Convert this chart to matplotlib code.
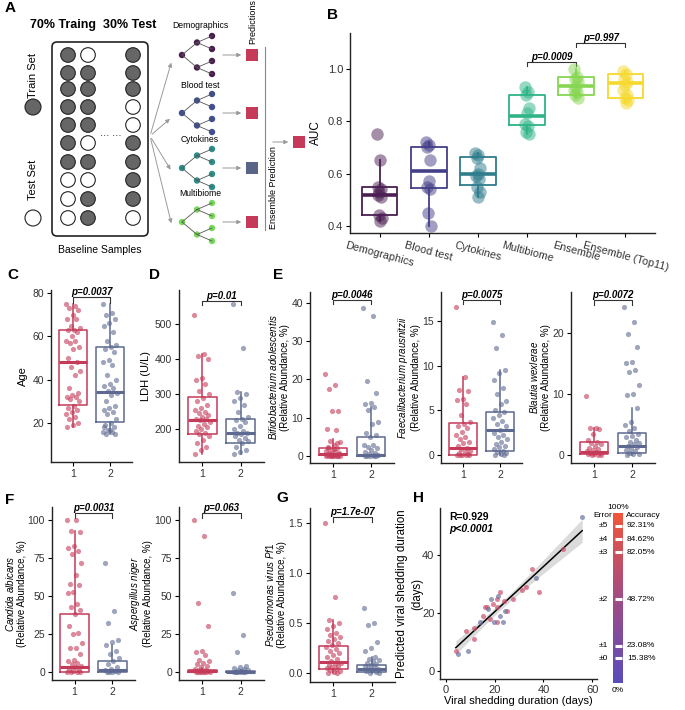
import numpy as np
import matplotlib
matplotlib.use("Agg")
import matplotlib.pyplot as plt
from matplotlib.patches import Circle, Rectangle, FancyBboxPatch
from matplotlib.colors import LinearSegmentedColormap

plt.rcParams['font.family'] = ['Liberation Sans', 'DejaVu Sans']
plt.rcParams['mathtext.fontset'] = 'custom'
plt.rcParams['mathtext.it'] = 'Liberation Sans:italic'
plt.rcParams['mathtext.rm'] = 'Liberation Sans'

# ---------------- data ----------------
# panel A: sample layout (1 = train, 0 = test) for the three shown columns
split_col1 = [1, 1, 1, 1, 1, 1, 1, 0, 0, 0]
split_col2 = [0, 1, 1, 1, 1, 0, 1, 0, 1, 1]
split_col3 = [1, 1, 1, 0, 0, 1, 1, 1, 1, 0]
tree_names = ['Demographics', 'Blood test', 'Cytokines', 'Multibiome']

# panel B: AUC per model
models = ['Demographics', 'Blood test', 'Cytokines', 'Multibiome', 'Ensemble', 'Ensemble (Top11)']
auc_demo = [0.75, 0.65, 0.55, 0.54, 0.53, 0.52, 0.51, 0.44, 0.43, 0.42]
auc_blood = [0.72, 0.71, 0.70, 0.65, 0.57, 0.55, 0.54, 0.45, 0.40]
auc_cyto = [0.68, 0.67, 0.66, 0.62, 0.60, 0.59, 0.58, 0.55, 0.53, 0.51]
auc_multi = [0.93, 0.91, 0.90, 0.85, 0.83, 0.79, 0.78, 0.76, 0.75]
auc_ens = [1.00, 0.97, 0.96, 0.95, 0.93, 0.92, 0.91, 0.90, 0.89]
auc_top11 = [0.99, 0.98, 0.96, 0.95, 0.94, 0.92, 0.90, 0.89, 0.88, 0.87]
# (whislo, q1, med, q3, whishi)
auc_box = [(0.42, 0.44, 0.52, 0.55, 0.65), (0.40, 0.545, 0.61, 0.70, 0.72),
           (0.51, 0.555, 0.60, 0.665, 0.68), (0.75, 0.785, 0.82, 0.90, 0.93),
           (0.89, 0.90, 0.935, 0.97, 1.00), (0.87, 0.89, 0.945, 0.98, 0.99)]

# panel C: age
age_1 = [75, 74, 73, 72, 70, 68, 68, 65, 64, 63, 63, 62, 60, 58, 58, 57, 55, 54, 50, 48,
         46, 44, 42, 36, 34, 33, 32, 32, 31, 30, 28, 27, 26, 25, 24, 23, 22, 20, 19, 18]
age_2 = [75, 71, 70, 68, 66, 65, 62, 58, 56, 55, 54, 53, 49, 48, 47, 42, 40, 38, 37, 36,
         35, 34, 33, 30, 28, 27, 26, 25, 24, 22, 20, 19, 18, 17, 16, 16, 15, 15, 17, 18]
age_box = [(18, 28.5, 48, 63, 75), (15, 20.5, 34.5, 55, 75)]

# panel D: LDH
ldh_1 = [527, 415, 408, 400, 345, 340, 330, 310, 300, 290, 280, 270, 260, 255, 250, 245,
         240, 235, 230, 228, 225, 220, 215, 210, 205, 200, 195, 190, 185, 180, 170, 160,
         150, 140, 130]
ldh_2 = [557, 432, 305, 300, 290, 280, 270, 250, 235, 230, 225, 220, 210, 200, 195, 190,
         188, 185, 180, 175, 170, 165, 160, 150, 140, 135, 128]
ldh_box = [(130, 185, 227, 292, 415), (128, 160, 188, 230, 305)]

# panel E: bacteria
bifido_1 = [21.5, 18.5, 17.5, 11.8, 11.7, 7, 6.8, 4, 3.8, 3, 2.5, 2, 1.5, 1.2, 1, 0.8, 0.5,
            0.3, 0.2, 0.1, 0, 0, 0, 0, 0, 0.05, 0.1, 0.4, 0.6, 0.9, 1.8, 2.2, 3.3]
bifido_2 = [38.5, 36.5, 19.5, 16.5, 13.8, 13.5, 12.8, 12, 9, 8.5, 6, 5.5, 5, 3, 2.8, 2.5,
            2, 1.5, 1, 0.8, 0.5, 0.3, 0.2, 0.1, 0, 0, 0, 0]
bifido_box = [(0, 0.2, 0.5, 2.2, 4.5), (0, 0.1, 0.4, 5.1, 12.8)]
faecali_1 = [16.6, 8.8, 7.3, 7.2, 6.3, 6.2, 5.7, 4.5, 3.7, 3.5, 3.2, 3, 2.6, 2.2, 2, 1.8,
             1.5, 1.3, 1.0, 0.8, 0.7, 0.5, 0.3, 0.2, 0.1, 0, 0, 0, 0, 0]
faecali_2 = [14.9, 13.5, 12, 9.5, 9.2, 8.4, 7.5, 6.8, 6.1, 5.7, 5.0, 4.8, 4.5, 4.2, 3.8, 3.5,
             3.2, 2.8, 2.5, 2.3, 2.0, 1.8, 1.5, 1.2, 1.0, 0.9, 0.7, 0.5, 0.3, 0.2, 0.1, 0, 0]
faecali_box = [(0, 0, 0.8, 3.6, 8.8), (0, 0.4, 2.8, 4.8, 9.5)]
blautia_1 = [9.7, 4.5, 4.4, 4.3, 3.5, 2.5, 2.2, 2.0, 1.8, 1.5, 1.2, 1.0, 0.8, 0.6, 0.5, 0.4,
             0.3, 0.2, 0.1, 0, 0, 0]
blautia_2 = [24.4, 21.9, 19.9, 17.7, 15.3, 15.2, 14, 13.6, 11.5, 10, 9.8, 7.7, 5.5, 5, 4.5,
             4.0, 3.5, 3.2, 3, 2.5, 2.2, 2, 1.8, 1.5, 1.3, 1.0, 0.8, 0.6, 0.4, 0.2, 0.1, 0]
blautia_box = [(0, 0.1, 0.5, 2.1, 4.5), (0, 0.4, 1.5, 3.6, 7.7)]

# panel F: fungi
candida_1 = [100, 100, 93, 92, 83, 82, 80, 78, 72, 64, 58, 57, 53, 52, 45, 43, 41, 38, 30,
             26, 25, 19, 16, 16, 12, 8, 7, 6, 5, 4, 3, 2, 1, 0.5, 0, 0, 0, 0]
candida_2 = [72, 40, 32, 21, 20, 18, 14, 12, 9, 7, 5, 3, 2, 1, 0.5, 0, 0, 0, 0]
candida_box = [(0, 0, 3.5, 38.5, 93), (0, 0, 1, 7, 18)]
asperg_1 = [100, 89.5, 45.5, 30, 14, 13, 11, 8, 7, 6, 5, 4, 3, 2, 1.5, 1, 0.5, 0.2, 0, 0,
            0, 0, 0, 0]
asperg_2 = [52, 24.5, 13.3, 4, 3, 2.5, 2, 1.5, 1, 0.5, 0.3, 0.1, 0, 0, 0, 0]
asperg_box = [(0, 0, 0.5, 1, 2.5), (0, 0, 0.2, 0.6, 1.5)]

# panel G: virus
pf1_1 = [1.5, 0.76, 0.53, 0.5, 0.47, 0.44, 0.40, 0.38, 0.36, 0.34, 0.32, 0.30, 0.28, 0.26,
         0.24, 0.22, 0.20, 0.18, 0.16, 0.14, 0.12, 0.10, 0.09, 0.08, 0.07, 0.06, 0.05,
         0.04, 0.03, 0.02, 0.01, 0.0, 0.0]
pf1_2 = [0.65, 0.5, 0.48, 0.31, 0.25, 0.22, 0.16, 0.14, 0.13, 0.12, 0.10, 0.09, 0.08, 0.07,
         0.06, 0.05, 0.04, 0.03, 0.02, 0.01, 0.0, 0.0]
pf1_box = [(0, 0.045, 0.11, 0.275, 0.53), (0, 0.01, 0.04, 0.08, 0.16)]

# panel H: observed vs predicted shedding duration (group 1 / 2)
obs_1 = [47.9, 35.3, 33, 31.2, 38, 27.3, 25, 23.6, 22, 20.9, 21, 20.9, 19.2, 17, 16.1, 15.1,
         18.1, 11.3, 11.5, 8.2, 4]
pred_1 = [41.9, 34.9, 28.9, 28, 27, 24.9, 20.7, 24.1, 27, 24.7, 21.9, 17, 23, 21.9, 21.9,
          18.8, 17.9, 14.8, 11.1, 13.9, 6.9]
obs_2 = [55.9, 37, 24.3, 21.2, 22.3, 23.4, 19.5, 18.4, 17.4, 14, 9.2, 4.7]
pred_2 = [53, 31.8, 20.7, 25.8, 19, 17, 16.8, 24.9, 21.3, 17, 6.9, 6]
err_levels = ['±0', '±1', '±2', '±3', '±4', '±5']
accuracy = [15.38, 23.08, 48.72, 82.05, 84.62, 92.31]
# where the marks sit on the 0-100% bar, as drawn in the source
accuracy_bar = [14.7, 21.8, 49.4, 77.0, 84.7, 92.4]

# ---------------- styles ----------------
RED = '#c43a58'
BLUE = '#5d6990'
model_colors = ['#4b1f52', '#443f87', '#2e7c8c', '#2fb487', '#86d650', '#f6d92e']
tree_colors = ['#4a1d4f', '#3f4e93', '#2d8e8a', '#77d85a']

W, H = 685, 710
fig = plt.figure(figsize=(W / 100, H / 100), dpi=100)


def px_axes(l, t, r, b):
    return fig.add_axes([l / W, 1 - b / H, (r - l) / W, (b - t) / H])


def ftext(x, y, s, **kw):
    fig.text(x / W, 1 - y / H, s, **kw)


def style(ax, fs=7.5):
    for s in ['top', 'right']:
        ax.spines[s].set_visible(False)
    for s in ['left', 'bottom']:
        ax.spines[s].set_linewidth(1.0)
        ax.spines[s].set_color('#222222')
    ax.tick_params(labelsize=fs, length=3, width=0.8, pad=2, labelcolor='#333333')


def jitter(n, spread):
    k = np.arange(n)
    return ((k * 0.618034) % 1 - 0.5) * 2 * spread


def boxes(ax, stats, colors, width, lw=1.1):
    for i, (st, col) in enumerate(zip(stats, colors)):
        d = dict(whislo=st[0], q1=st[1], med=st[2], q3=st[3], whishi=st[4], fliers=[])
        ax.bxp([d], positions=[i + 1], widths=width, showfliers=False, showcaps=False,
               manage_ticks=False,
               boxprops=dict(color=col, lw=lw), whiskerprops=dict(color=col, lw=lw),
               medianprops=dict(color=col, lw=lw * 2))


def bracket(ax, x1, x2, y, h, text, fs=7):
    ax.plot([x1, x1, x2, x2], [y - h, y, y, y - h], color='#333333', lw=0.8, clip_on=False)
    ax.text((x1 + x2) / 2, y, text, ha='center', va='bottom', fontsize=fs,
            fontweight='bold', fontstyle='italic', clip_on=False)


# ---------------- panel A ----------------
axA = px_axes(0, 0, 310, 260)
axA.set_xlim(0, 310)
axA.set_ylim(260, 0)
axA.axis('off')
axA.text(93, 25, '70% Traing  30% Test', ha='center', va='center', fontsize=9, fontweight='bold')
axA.add_patch(FancyBboxPatch((52, 42), 96, 194, boxstyle='round,pad=0,rounding_size=5',
                             fc='none', ec='#222222', lw=1.2))
row_y = [55, 73, 89, 107, 125, 143, 162, 180, 199, 218]
for cx, col in zip([68, 88, 133], [split_col1, split_col2, split_col3]):
    for cy, filled in zip(row_y, col):
        axA.add_patch(Circle((cx, cy), 7.3, fc='#666666' if filled else 'white',
                             ec='#222222', lw=0.8))
axA.text(111, 136, '··· ···', ha='center', va='center', fontsize=7)
axA.text(33, 75, 'Train Set', rotation=90, ha='center', va='center', fontsize=8)
axA.add_patch(Circle((33, 107), 8.0, fc='#666666', ec='#222222', lw=0.8))
axA.text(33, 180, 'Test Set', rotation=90, ha='center', va='center', fontsize=8)
axA.add_patch(Circle((33, 218), 8.0, fc='white', ec='#222222', lw=0.8))
axA.text(100, 250, 'Baseline Samples', ha='center', va='center', fontsize=7.5)

root_y = [55, 113, 168, 222]
label_y = [25, 85, 140, 194]
square_cols = [RED, RED, '#5a6487', RED]
for name, col, y0, ly, sq in zip(tree_names, tree_colors, root_y, label_y, square_cols):
    axA.annotate('', xy=(172, y0 + 5 if y0 < 100 else y0 + 4), xytext=(150, 136),
                 arrowprops=dict(arrowstyle='-|>', color='#9a9a9a', lw=0.7, mutation_scale=6))
    mids = [(197, y0 - 12.5), (197, y0 + 12.5)]
    for mx, my in mids:
        axA.plot([182, mx], [y0, my], color='#555555', lw=0.6)
        for dy in (-6.5, 6.5):
            axA.plot([mx, 212], [my, my + dy], color='#555555', lw=0.6)
            axA.add_patch(Circle((212, my + dy), 3.2, fc=col, ec='none'))
        axA.add_patch(Circle((mx, my), 3.2, fc=col, ec='none'))
    axA.add_patch(Circle((182, y0), 3.2, fc=col, ec='none'))
    axA.text(200, ly, name, ha='center', va='center', fontsize=6.2)
    axA.annotate('', xy=(244, y0), xytext=(220, y0),
                 arrowprops=dict(arrowstyle='-|>', color='#9a9a9a', lw=0.7, mutation_scale=6))
    axA.add_patch(Rectangle((246, y0 - 6), 12, 12, fc=sq, ec='none'))
axA.text(253, 22, 'Predictions', rotation=90, ha='center', va='center', fontsize=6.5)
axA.plot([265, 265], [47, 230], color='#888888', lw=0.8)
axA.text(273, 188, 'Ensemble Prediction', rotation=90, ha='center', va='center', fontsize=6.5)
axA.annotate('', xy=(291, 142), xytext=(270, 142),
             arrowprops=dict(arrowstyle='-|>', color='#9a9a9a', lw=0.7, mutation_scale=6))
axA.add_patch(Rectangle((293, 136), 12, 12, fc=RED, ec='none'))

# ---------------- panel B ----------------
axB = px_axes(350, 33, 655, 233)
style(axB, 8)
auc_sets = [auc_demo, auc_blood, auc_cyto, auc_multi, auc_ens, auc_top11]
boxes(axB, auc_box, model_colors, 0.73, lw=1.3)
for i, (vals, col) in enumerate(zip(auc_sets, model_colors)):
    axB.scatter(i + 1 + jitter(len(vals), 0.05), vals, s=80, color=col, alpha=0.5, lw=0, zorder=3)
axB.set_xlim(0.4, 6.6)
axB.set_ylim(0.373, 1.137)
axB.set_yticks([0.4, 0.6, 0.8, 1.0])
axB.set_yticklabels(['0.4', '0.6', '0.8', '1.0'])
axB.set_xticks(range(1, 7))
axB.set_xticklabels(models, rotation=-15, ha='center', fontsize=7.8)
axB.set_ylabel('AUC', fontsize=8.5, labelpad=4)
bracket(axB, 4, 5, 1.028, 0.018, 'p=0.0009')
bracket(axB, 5, 6, 1.10, 0.018, 'p=0.997')

# ---------------- panels C-G ----------------
def strip_panel(rect, g1, g2, bstats, ylim, yticks, ptext, py, ph, ylabel, lab_fs=7.5, lpad=3):
    ax = px_axes(*rect)
    style(ax)
    boxes(ax, bstats, [RED, BLUE], 0.75)
    for pos, vals, col in [(1, g1, RED), (2, g2, BLUE)]:
        ax.scatter(pos + jitter(len(vals), 0.2), vals, s=14, color=col, alpha=0.6, lw=0, zorder=3)
    ax.set_xlim(0.4, 2.6)
    ax.set_ylim(*ylim)
    ax.set_yticks(yticks)
    ax.set_xticks([1, 2])
    ax.set_xticklabels(['1', '2'])
    ax.set_ylabel(ylabel, fontsize=lab_fs, labelpad=lpad, linespacing=1.15)
    bracket(ax, 1, 2, py, ph, ptext)
    return ax


strip_panel((51, 290, 132, 462), age_1, age_2, age_box, (2, 81.4), [20, 40, 60, 80],
            'p=0.0037', 78, 2.5, 'Age', 8)
strip_panel((179, 290, 264, 462), ldh_1, ldh_2, ldh_box, (106, 597), [200, 300, 400, 500],
            'p=0.01', 566, 12, 'LDH (U/L)', 8)
abund = '\n(Relative Abundance, %)'
strip_panel((310, 292, 394, 463), bifido_1, bifido_2, bifido_box, (-1.8, 42.8), [0, 10, 20, 30, 40],
            'p=0.0046', 40.8, 1.2, r'$\it{Bifidobacterium\ adolescentis}$' + abund, 7, 1)
strip_panel((441, 292, 522, 463), faecali_1, faecali_2, faecali_box, (-0.9, 18.3), [0, 5, 10, 15],
            'p=0.0075', 17.4, 0.5, r'$\it{Faecalibacterium\ prausnitzii}$' + abund, 7, 1)
strip_panel((571, 292, 655, 463), blautia_1, blautia_2, blautia_box, (-1.3, 26.8), [0, 10, 20],
            'p=0.0072', 25.5, 0.8, r'$\it{Blautia\ wexlerae}$' + abund, 7, 1)
strip_panel((52, 507, 135, 680), candida_1, candida_2, candida_box, (-5.3, 108.7),
            [0, 25, 50, 75, 100], 'p=0.0031', 104.7, 3.5, r'$\it{Candida\ albicans}$' + abund, 7, 0.5)
strip_panel((179, 507, 264, 680), asperg_1, asperg_2, asperg_box, (-5.3, 108.7),
            [0, 25, 50, 75, 100], 'p=0.063', 104.7, 3.5, r'$\it{Aspergillus\ niger}$' + abund, 7, 1)
axG = strip_panel((310, 508, 395, 682), pf1_1, pf1_2, pf1_box, (-0.09, 1.65), [0.0, 0.5, 1.0, 1.5],
                  'p=1.7e-07', 1.56, 0.05, r'$\it{Pseudomonas\ virus\ Pf1}$' + abund, 7, 1)
axG.set_yticklabels(['0.0', '0.5', '1.0', '1.5'])

# ---------------- panel H ----------------
axH = px_axes(440, 508, 597, 679)
style(axH, 8)
axH.tick_params(length=2.5, pad=1.5)
axH.scatter(obs_1, pred_1, s=13, color='#cf4f6c', alpha=0.7, lw=0, zorder=3)
axH.scatter(obs_2, pred_2, s=13, color='#6a74a0', alpha=0.7, lw=0, zorder=3)
xs = np.array(obs_1 + obs_2)
ys = np.array(pred_1 + pred_2)
slope, icpt = np.polyfit(xs, ys, 1)
xg = np.linspace(xs.min(), xs.max(), 100)
resid = ys - (slope * xs + icpt)
s_err = np.sqrt(np.sum(resid ** 2) / (len(xs) - 2))
se = s_err * np.sqrt(1 / len(xs) + (xg - xs.mean()) ** 2 / np.sum((xs - xs.mean()) ** 2))
axH.fill_between(xg, slope * xg + icpt - 2.04 * se, slope * xg + icpt + 2.04 * se,
                 color='#c4c4c4', alpha=0.6, lw=0, zorder=1)
axH.plot(xg, slope * xg + icpt, color='black', lw=1.1, zorder=2)
axH.set_xlim(-2.5, 62)
axH.set_ylim(-2.7, 56)
axH.set_xticks([0, 20, 40, 60])
axH.set_yticks([0, 20, 40])
axH.set_xlabel('Viral shedding duration (days)', fontsize=8, labelpad=1)
axH.set_ylabel('Predicted viral shedding duration\n(days)', fontsize=8.3, linespacing=1.35)
axH.yaxis.set_label_coords(-0.105, 0.5)
axH.text(0.06, 0.95, 'R=0.929', transform=axH.transAxes, fontsize=7.5, fontweight='bold', va='center')
axH.text(0.06, 0.88, 'p<0.0001', transform=axH.transAxes, fontsize=7.5, fontweight='bold',
         fontstyle='italic', va='center')

axCB = px_axes(613, 513, 623, 683)
cmap = LinearSegmentedColormap.from_list('acc', ['#5a4cbd', '#a24c84', '#f2553a'])
axCB.imshow(np.linspace(0, 1, 200)[:, None], cmap=cmap, aspect='auto', origin='lower',
            extent=[0, 1, 0, 100])
axCB.set_xlim(0, 1)
axCB.set_ylim(0, 100)
axCB.axis('off')
for lev, acc, pos in zip(err_levels, accuracy, accuracy_bar):
    axCB.plot([0.15, 0.85], [pos, pos], color='white', lw=2.2, solid_capstyle='butt')
    axCB.text(-0.5, pos, lev, ha='right', va='center', fontsize=6, clip_on=False)
    axCB.text(1.4, pos, '%.2f%%' % acc, ha='left', va='center', fontsize=6, clip_on=False)
axCB.text(0.5, 103.5, '100%', ha='center', va='center', fontsize=6, clip_on=False)
axCB.text(0.5, -4.7, '0%', ha='center', va='center', fontsize=6, clip_on=False)
axCB.text(-1.0, 98.6, 'Error', ha='center', va='center', fontsize=6, clip_on=False)
axCB.text(1.3, 98.6, 'Accuracy', ha='left', va='center', fontsize=6, clip_on=False)

# ---------------- panel letters ----------------
for letter, x, y in [('A', 10, 8), ('B', 332, 15), ('C', 13, 275), ('D', 155, 275),
                     ('E', 278, 275), ('F', 10, 500), ('G', 282, 498), ('H', 418, 498)]:
    ftext(x, y, letter, fontsize=11, fontweight='bold', ha='center', va='center')

fig.savefig('out.png', dpi=100)
